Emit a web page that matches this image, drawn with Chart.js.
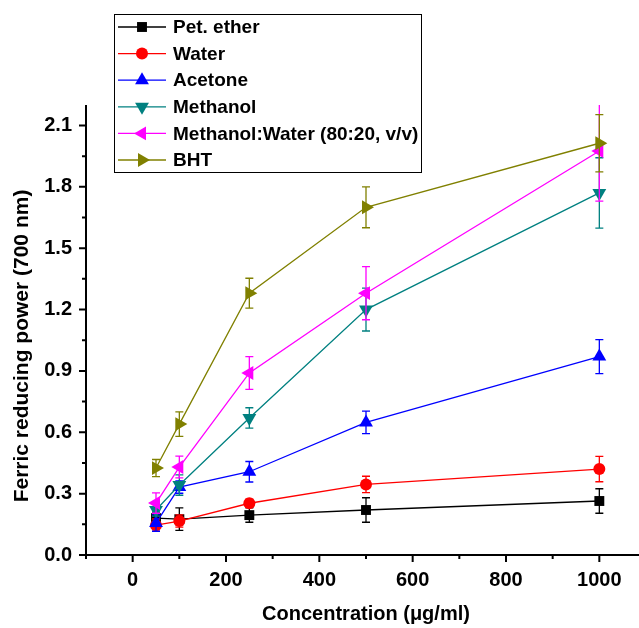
<!DOCTYPE html>
<html>
<head>
<meta charset="utf-8">
<script src="https://cdn.jsdelivr.net/npm/chart.js@4/dist/chart.umd.min.js"></script>
<style>
html,body{margin:0;padding:0;background:#fff;overflow:hidden;}
#c{display:block;width:639px;height:628px;}
</style>
</head>
<body>
<canvas id="c" width="639" height="628"></canvas>
<script>
// ---- data ----
const concentrations = [50, 100, 250, 500, 1000];
const seriesNames = ["Pet. ether", "Water", "Acetone", "Methanol", "Methanol:Water (80:20, v/v)", "BHT"];
const petEther      = [0.180, 0.175, 0.195, 0.220, 0.264];
const water         = [0.146, 0.166, 0.253, 0.345, 0.420];
const acetone       = [0.156, 0.332, 0.407, 0.648, 0.970];
const methanol      = [0.220, 0.342, 0.670, 1.200, 1.770];
const methanolWater = [0.254, 0.430, 0.890, 1.280, 1.975];
const bht           = [0.425, 0.640, 1.280, 1.700, 2.013];
const petEtherErr      = [0.030, 0.055, 0.035, 0.060, 0.060];
const waterErr         = [0.030, 0.030, 0.020, 0.040, 0.062];
const acetoneErr       = [0.040, 0.030, 0.050, 0.055, 0.083];
const methanolErr      = [0.030, 0.050, 0.050, 0.105, 0.172];
const methanolWaterErr = [0.050, 0.053, 0.080, 0.130, 0.245];
const bhtErr           = [0.042, 0.060, 0.073, 0.100, 0.140];
const xTickValues = [-100, 0, 100, 200, 300, 400, 500, 600, 700, 800, 900, 1000];
const xTickLabels = ["", "0", "", "200", "", "400", "", "600", "", "800", "", "1000"];
const yTickValues = [0, 0.15, 0.3, 0.45, 0.6, 0.75, 0.9, 1.05, 1.2, 1.35, 1.5, 1.65, 1.8, 1.95, 2.1];
const yTickLabels = ["0.0", "", "0.3", "", "0.6", "", "0.9", "", "1.2", "", "1.5", "", "1.8", "", "2.1"];
const xTitle = "Concentration (\u03bcg/ml)";
const yTitle = "Ferric reducing power (700 nm)";

const FONT = '"Liberation Sans", Arial, Helvetica, sans-serif';
const values = [petEther, water, acetone, methanol, methanolWater, bht];
const errors = [petEtherErr, waterErr, acetoneErr, methanolErr, methanolWaterErr, bhtErr];
const colors = ["#000000", "#ff0000", "#0000ff", "#008080", "#ff00ff", "#808000"];
const styles = [
  {pointStyle: "rect", radius: 7, rotation: 0},
  {pointStyle: "circle", radius: 6, rotation: 0},
  {pointStyle: "triangle", radius: 8, rotation: 0},
  {pointStyle: "triangle", radius: 8, rotation: 180},
  {pointStyle: "triangle", radius: 8, rotation: -90},
  {pointStyle: "triangle", radius: 8, rotation: 90}
];

const datasets = seriesNames.map((name, k) => ({
  label: name,
  data: concentrations.map((x, i) => ({x: x, y: values[k][i]})),
  errs: errors[k],
  borderColor: colors[k],
  backgroundColor: colors[k],
  pointBackgroundColor: colors[k],
  pointBorderColor: colors[k],
  pointBorderWidth: 0,
  borderWidth: 1.3,
  pointStyle: styles[k].pointStyle,
  pointRadius: styles[k].radius,
  pointRotation: styles[k].rotation,
  pointHoverRadius: styles[k].radius,
  tension: 0,
  fill: false,
  order: seriesNames.length - k
}));

function drawMarker(ctx, st, color, x, y) {
  if (Chart.helpers && Chart.helpers.drawPoint) {
    ctx.save();
    ctx.fillStyle = color; ctx.strokeStyle = color; ctx.lineWidth = 0.01;
    Chart.helpers.drawPoint(ctx, {pointStyle: st.pointStyle, radius: st.radius, rotation: st.rotation, borderWidth: 0}, x, y);
    ctx.restore();
  }
}

const errorBarPlugin = {
  id: "errorBars",
  beforeDatasetDraw(chart, args) {
    const ds = chart.data.datasets[args.index];
    const xs = chart.scales.x, ys = chart.scales.y, ca = chart.chartArea;
    const ctx = chart.ctx;
    ctx.save();
    ctx.beginPath();
    ctx.rect(ca.left, ca.top, ca.right - ca.left, ca.bottom - ca.top);
    ctx.clip();
    ctx.strokeStyle = ds.borderColor;
    ctx.lineWidth = 1.3;
    ds.data.forEach((p, i) => {
      const e = ds.errs[i];
      const px = xs.getPixelForValue(p.x);
      const yt = ys.getPixelForValue(p.y + e);
      const yb = ys.getPixelForValue(p.y - e);
      ctx.beginPath();
      ctx.moveTo(px, yt); ctx.lineTo(px, yb);
      ctx.moveTo(px - 4, yt); ctx.lineTo(px + 4, yt);
      ctx.moveTo(px - 4, yb); ctx.lineTo(px + 4, yb);
      ctx.stroke();
    });
    ctx.restore();
  }
};

const axesPlugin = {
  id: "axesDecor",
  afterDraw(chart) {
    const ctx = chart.ctx, xs = chart.scales.x, ys = chart.scales.y, ca = chart.chartArea;
    ctx.save();
    ctx.strokeStyle = "#000"; ctx.lineWidth = 2;
    ctx.beginPath();
    ctx.moveTo(ca.left, ca.top); ctx.lineTo(ca.left, ca.bottom + 1);
    ctx.moveTo(ca.left - 1, ca.bottom); ctx.lineTo(ca.right, ca.bottom);
    ctx.stroke();
    ctx.beginPath();
    xTickValues.forEach((v, i) => {
      const px = xs.getPixelForValue(v);
      const len = xTickLabels[i] !== "" ? 7 : 4;
      ctx.moveTo(px, ca.bottom); ctx.lineTo(px, ca.bottom + len);
    });
    yTickValues.forEach((v, i) => {
      const py = ys.getPixelForValue(v);
      const len = yTickLabels[i] !== "" ? 7 : 4;
      ctx.moveTo(ca.left, py); ctx.lineTo(ca.left - len, py);
    });
    ctx.stroke();
    ctx.fillStyle = "#000";
    ctx.textAlign = "center"; ctx.textBaseline = "middle";
    ctx.font = "bold 20px " + FONT;
    ctx.fillText(xTitle, 366, 614);
    ctx.font = "bold 21px " + FONT;
    ctx.translate(22, 346); ctx.rotate(-Math.PI / 2);
    ctx.fillText(yTitle, 0, 0);
    ctx.restore();

    // legend
    ctx.save();
    const lx = 114, ly = 14, lw = 307, lh = 158;
    ctx.fillStyle = "#fff";
    ctx.fillRect(lx, ly, lw, lh);
    ctx.strokeStyle = "#000"; ctx.lineWidth = 1;
    ctx.strokeRect(lx + 0.5, ly + 0.5, lw, lh);
    ctx.font = "bold 19px " + FONT;
    ctx.textAlign = "left"; ctx.textBaseline = "middle";
    seriesNames.forEach((name, k) => {
      const y = 27 + k * 26.6;
      ctx.strokeStyle = colors[k]; ctx.lineWidth = 1.3;
      ctx.beginPath(); ctx.moveTo(118, y); ctx.lineTo(166, y); ctx.stroke();
      drawMarker(ctx, styles[k], colors[k], 142, y);
      ctx.fillStyle = "#000";
      ctx.fillText(name, 173, y + 1);
    });
    ctx.restore();
  }
};

new Chart(document.getElementById("c"), {
  type: "line",
  data: {datasets: datasets},
  plugins: [errorBarPlugin, axesPlugin],
  options: {
    responsive: false,
    maintainAspectRatio: false,
    animation: false,
    devicePixelRatio: 1,
    layout: {autoPadding: false, padding: {top: 105, right: 0, left: 0, bottom: 0}},
    plugins: {legend: {display: false}, tooltip: {enabled: false}},
    scales: {
      x: {
        type: "linear", min: -100, max: 1085,
        afterBuildTicks: s => { s.ticks = xTickValues.map(v => ({value: v})); },
        afterFit: s => { s.height = 73; s.paddingRight = 0; s.paddingLeft = 0; },
        grid: {display: false, drawTicks: false, tickLength: 0},
        border: {display: false},
        ticks: {
          autoSkip: false, maxRotation: 0, padding: 13, color: "#000",
          font: {family: FONT, size: 20, weight: "bold"},
          callback: (v, i) => xTickLabels[i]
        }
      },
      y: {
        type: "linear", min: 0, max: 2.2,
        afterBuildTicks: s => { s.ticks = yTickValues.map(v => ({value: v})); },
        afterFit: s => { s.width = 86; },
        grid: {display: false, drawTicks: false, tickLength: 0},
        border: {display: false},
        ticks: {
          autoSkip: false, padding: 14, color: "#000",
          font: {family: FONT, size: 20, weight: "bold"},
          callback: (v, i) => yTickLabels[i]
        }
      }
    }
  }
});
</script>
</body>
</html>
